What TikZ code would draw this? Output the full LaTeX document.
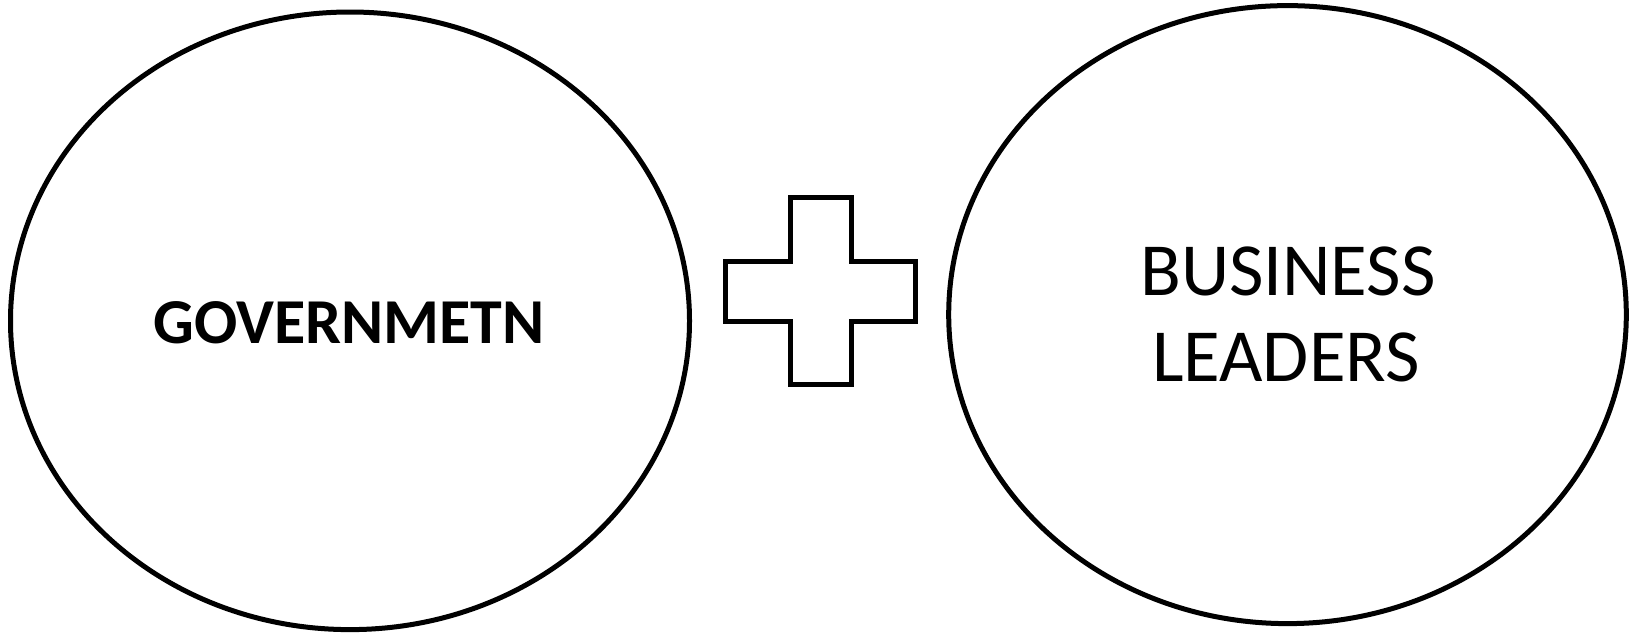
\documentclass[tikz,border=0pt]{standalone}
\usepackage{fontspec}
\setmainfont{Carlito}
\begin{document}
\begin{tikzpicture}[x=1pt, y=-1pt, line join=miter]
				\def\lw{5pt}
				\useasboundingbox (0,0) rectangle (1629,633);
				
				\coordinate (G) at (350,320.8);
				\coordinate (B) at (1287.5,314.6);
				\draw[line width=\lw] (G) ellipse [x radius=339.5, y radius=308.8];
				\draw[line width=\lw] (B) ellipse [x radius=338.8, y radius=309];
				
				% plus sign
				\draw[line width=\lw] (790,197.5) -- (851,197.5) -- (851,261) -- (915,261) -- (915,321.5) -- (851,321.5)
					-- (851,384.5) -- (790,384.5) -- (790,321.5) -- (725.8,321.5) -- (725.8,261) -- (790,261) -- cycle;
				
				\node[anchor=base, inner sep=0pt, font=\fontsize{64}{70}\selectfont\bfseries] (gov) at (349,343.3) {GOVERNMETN};
				\node[anchor=base, inner sep=0pt, font=\fontsize{75}{80}\selectfont] (bus) at (1288,295.5) {BUSINESS};
				\node[anchor=base, inner sep=0pt, font=\fontsize{75}{80}\selectfont] (lead) at (1286,381) {LEADERS};
			\end{tikzpicture}
\end{document}
